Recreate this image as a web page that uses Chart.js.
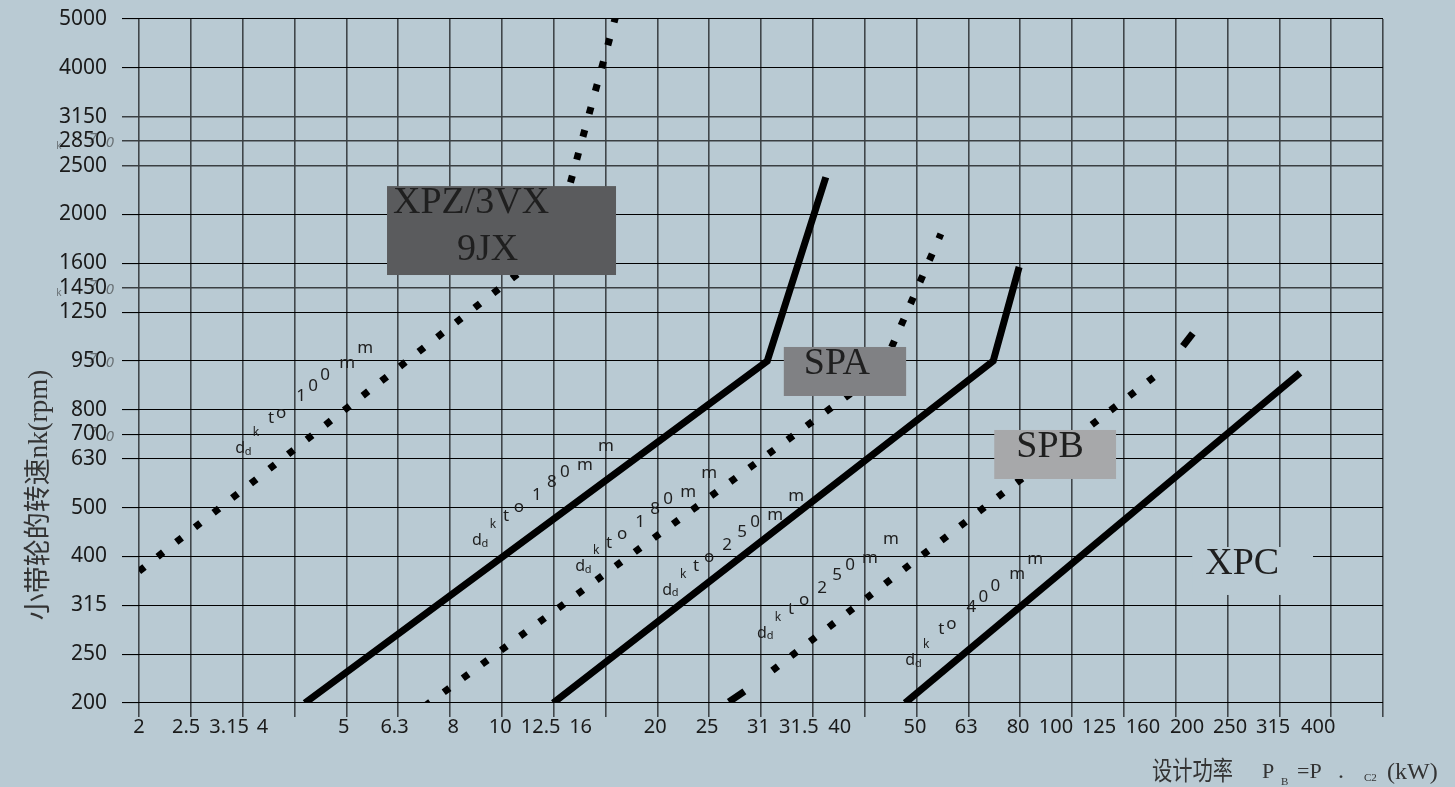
<!DOCTYPE html>
<html>
<head>
<meta charset="utf-8">
<script src="https://cdn.jsdelivr.net/npm/chart.js@4"></script>
<style>
  html, body { margin: 0; padding: 0; background: #b9cad3; }
  canvas { display: block; }
</style>
</head>
<body>
<canvas id="chart" width="1455" height="787"></canvas>
<script>
// y axis: small pulley speed grades (rpm), one row per main grade
const rpmMain = [200, 250, 315, 400, 500, 630, 800, 950, 1250, 1600, 2000, 2500, 3150, 4000, 5000];
// extra labels that sit half a row above the grade below them
const rpmHalf = [700, 1450, 2850];

// x axis: 24 equal columns; the power labels are not centred on the columns
const kwLabels = ["2", "2.5", "3.15", "4", "5", "6.3", "8", "10", "12.5", "16", "20", "25", "31", "31.5", "40",
                  "50", "63", "80", "100", "125", "160", "200", "250", "315", "400"];
const kwAt = [0, 0.91, 1.74, 2.38, 3.95, 4.93, 6.06, 6.97, 7.75, 8.52, 9.96, 10.96, 11.95, 12.73, 13.52,
              14.97, 15.96, 16.96, 17.69, 18.52, 19.37, 20.22, 21.05, 21.88, 22.75];

// belt section boundaries (x = column, y = rpm)
const xpzDotX = [0, 7.99, 9.23];
const xpzDotRpm = [372, 1730, 5210];
const spzX = [3.20, 12.12, 13.25];
const spzRpm = [200, 950, 2370];
const spaDotX = [5.51, 14.32, 15.47];
const spaDotRpm = [197, 917, 1830];
const spaX = [7.99, 16.48, 16.98];
const spaRpm = [200, 950, 1570];
const spbDotX = [12.22, 19.58];
const spbDotRpm = [232, 898];
const spbHeadX = [11.38, 11.68];
const spbHeadRpm = [201, 211];
const spbTailX = [20.14, 20.33];
const spbTailRpm = [1033, 1110];
const xpcX = [14.78, 22.40];
const xpcRpm = [200, 911];

// "dd k to ... mm" notes along the lines
const noteSize = ["100", "180", "180", "250", "250", "400"];
const noteX = [1.95, 6.52, 8.51, 10.19, 12.02, 14.88];
const noteRpm = [661, 430, 380, 339, 276, 243];
const noteSteep = [true, false, false, false, false, true];

function rpmToGrade(r) {
  let i = 0;
  while (i < rpmMain.length - 2 && r > rpmMain[i + 1]) i++;
  return i + Math.log(r / rpmMain[i]) / Math.log(rpmMain[i + 1] / rpmMain[i]);
}

const yTicks = rpmMain.map((v, i) => ({ v: v, g: i }))
  .concat(rpmHalf.map(v => ({ v: v, g: Math.floor(rpmToGrade(v)) + 0.5 })))
  .sort((a, b) => a.g - b.g);

function pts(xs, rs) {
  return xs.map((x, i) => ({ x: x, y: rpmToGrade(rs[i]) }));
}

const solid = { borderColor: '#000', borderWidth: 7, pointRadius: 0, borderCapStyle: 'butt',
                borderJoinStyle: 'miter', tension: 0, xAxisID: 'x', yAxisID: 'y' };
const dotted = Object.assign({}, solid, { borderDash: [7, 16.7] });

const boxes = [
  { x0: 4.785, x1: 9.203, g0: 8.76, g1: 10.58, fill: '#5a5b5d', lines: [["XPZ/3VX", 6, 27], ["9JX", 70, 74]] },
  { x0: 12.44, x1: 14.80, g0: 6.284, g1: 7.287, fill: '#808184', lines: [["SPA", 20, 27]] },
  { x0: 16.50, x1: 18.85, g0: 4.585, g1: 5.588, fill: '#a7a8aa', lines: [["SPB", 22, 27]] },
  { x0: 20.32, x1: 22.65, g0: 2.211, g1: 3.193, fill: '#b9cad3', lines: [["XPC", 13, 27]] }
];

const tplA = [[0, 0], [16, -16], [29, -24], [42, -33], [60, -45], [75, -58], [88, -68], [108, -75], [129, -94]];
const tplB = [[0, 0], [16, -16], [31, -31], [41, -36], [61, -53], [73, -63], [85, -74], [107, -86], [125, -101]];

const overlay = {
  id: 'overlay',
  beforeDraw(chart) {
    const c = chart.ctx;
    c.save();
    c.fillStyle = '#b9cad3';
    c.fillRect(0, 0, chart.width, chart.height);
    c.restore();
  },
  afterDatasetsDraw(chart) {
    const c = chart.ctx;
    const px = v => chart.scales.x.getPixelForValue(v);
    const py = v => chart.scales.y.getPixelForValue(v);
    c.save();

    // label boxes
    boxes.forEach(b => {
      const l = px(b.x0), r = px(b.x1), t = py(b.g1), bt = py(b.g0);
      c.fillStyle = b.fill;
      c.fillRect(l, t, r - l, bt - t);
      c.fillStyle = '#1f1f1f';
      c.font = "38px 'Liberation Serif'";
      c.textAlign = 'left';
      c.textBaseline = 'alphabetic';
      b.lines.forEach(ln => c.fillText(ln[0], l + ln[1], t + ln[2]));
    });

    // diameter notes
    c.fillStyle = '#1e1e1e';
    c.textAlign = 'center';
    c.textBaseline = 'middle';
    noteSize.forEach((s, n) => {
      const x0 = px(noteX[n]), y0 = py(rpmToGrade(noteRpm[n]));
      const tpl = noteSteep[n] ? tplB : tplA;
      const chars = ['d', 'k', 't', 'o', s[0], s[1], s[2], 'm', 'm'];
      chars.forEach((ch, i) => {
        const x = x0 + tpl[i][0], y = y0 + tpl[i][1];
        if (i === 0) {
          c.font = "16px 'Noto Sans'";
          c.fillText('d', x, y);
          c.font = "11px 'Noto Sans'";
          c.fillText('d', x + 8, y + 3);
        } else if (i === 1) {
          c.font = "12px 'Noto Sans'";
          c.fillText(ch, x, y);
        } else {
          c.font = "17px 'Noto Sans'";
          c.fillText(ch, x, y);
        }
      });
    });

    // faint overprinted digits next to some speed labels
    c.fillStyle = 'rgba(40,40,40,0.55)';
    c.font = "italic 15px 'Noto Sans'";
    [2850, 1450, 950, 700].forEach(v => {
      const y = py(yTicks.find(t => t.v === v).g);
      c.fillText('7', 93, y - 2);
      c.fillText('0', 110, y + 2);
    });
    c.font = "10px 'Noto Sans'";
    c.fillText('k', 59, py(11.5) + 5);
    c.fillText('k', 59, py(8.5) + 5);

    // axis titles
    c.fillStyle = '#333';
    c.save();
    c.translate(40, 495);
    c.rotate(-Math.PI / 2);
    c.font = "27px 'Liberation Serif', 'Noto Sans CJK SC'";
    c.textAlign = 'center';
    c.textBaseline = 'middle';
    c.fillText('小带轮的转速nk(rpm)', 0, 0);
    c.restore();

    c.textAlign = 'left';
    c.textBaseline = 'alphabetic';
    c.save();
    c.translate(1152, 780);
    c.scale(0.78, 1);
    c.font = "26px 'Noto Sans CJK SC'";
    c.fillText('设计功率', 0, 0);
    c.restore();
    c.font = "22px 'Liberation Serif'";
    c.fillText('P', 1262, 778);
    c.fillText('=P', 1297, 778);
    c.font = "24px 'Liberation Serif'";
    c.fillText('.', 1338, 778);
    c.fillText('(kW)', 1387, 779);
    c.font = "11px 'Liberation Serif'";
    c.fillText('B', 1281, 785);
    c.fillText('C2', 1364, 781);

    c.restore();
  }
};

const greyRows = [3150, 2850, 2500, 1450];

new Chart(document.getElementById('chart'), {
  type: 'line',
  data: {
    datasets: [
      Object.assign({ data: pts(xpzDotX, xpzDotRpm), clip: 0 }, dotted),
      Object.assign({ data: pts(spzX, spzRpm) }, solid),
      Object.assign({ data: pts(spaDotX, spaDotRpm), clip: 0 }, dotted),
      Object.assign({ data: pts(spaX, spaRpm) }, solid),
      Object.assign({ data: pts(spbDotX, spbDotRpm) }, dotted),
      Object.assign({ data: pts(spbHeadX, spbHeadRpm) }, solid),
      Object.assign({ data: pts(spbTailX, spbTailRpm) }, solid),
      Object.assign({ data: pts(xpcX, xpcRpm) }, solid)
    ]
  },
  options: {
    responsive: false,
    animation: false,
    devicePixelRatio: 1,
    layout: { padding: { left: 0, right: 72, top: 19, bottom: 0 } },
    plugins: { legend: { display: false }, tooltip: { enabled: false } },
    scales: {
      x: {
        type: 'linear', position: 'bottom', min: 0, max: 24, weight: 0,
        afterBuildTicks: s => { s.ticks = Array.from({ length: 25 }, (_, i) => ({ value: i })); },
        ticks: { display: false },
        grid: { color: '#40464a', lineWidth: 1.6, tickLength: 14 },
        border: { display: false },
        afterFit: s => { s.height = 14; }
      },
      xl: {
        type: 'linear', position: 'bottom', min: 0, max: 24, weight: 1,
        afterBuildTicks: s => { s.ticks = kwAt.map(v => ({ value: v })); },
        ticks: {
          callback: (v, i) => kwLabels[i],
          autoSkip: false, maxRotation: 0, minRotation: 0, padding: 0,
          color: '#1a1a1a', font: { family: "'Noto Sans'", size: 20, lineHeight: 1 }
        },
        grid: { display: false, drawTicks: false },
        border: { display: false },
        afterFit: s => { s.height = 70; }
      },
      y: {
        type: 'linear', position: 'left', min: 0, max: 14,
        afterBuildTicks: s => { s.ticks = yTicks.map(t => ({ value: t.g })); },
        ticks: {
          callback: (v, i) => String(yTicks[i].v),
          autoSkip: false, padding: 15,
          color: '#1a1a1a', font: { family: "'Noto Sans'", size: 21, lineHeight: 1 }
        },
        grid: {
          tickLength: 17,
          color: ctx => greyRows.includes(yTicks[ctx.index] && yTicks[ctx.index].v) ? '#3a3f42' : '#000',
          lineWidth: ctx => greyRows.includes(yTicks[ctx.index] && yTicks[ctx.index].v) ? 1.5 : 1.1
        },
        border: { display: false },
        afterFit: s => { s.width = 139; s.paddingTop = 6; s.paddingBottom = 6; }
      }
    }
  },
  plugins: [overlay]
});
</script>
</body>
</html>
